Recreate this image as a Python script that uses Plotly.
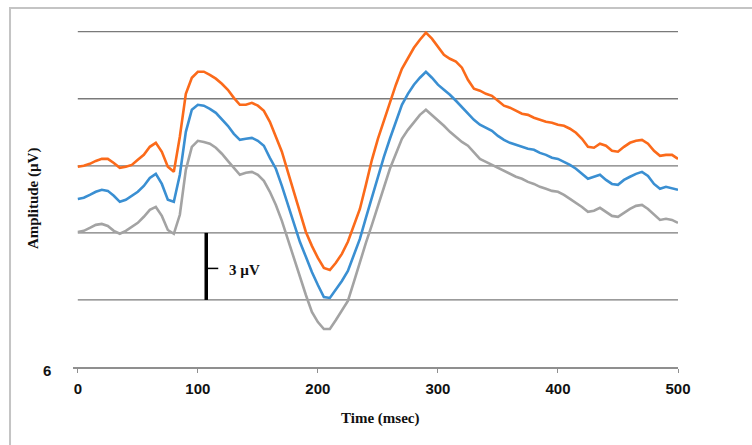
import plotly.graph_objects as go

# Averaged waveforms, sampled every 5 ms (µV, negative plotted upward)
time_ms = list(range(0, 501, 5))

orange_uv = [
    -2.96, -3.00, -3.09, -3.22, -3.31, -3.31, -3.13, -2.91, -2.96, -3.04,
    -3.27, -3.49, -3.85, -4.03, -3.63, -2.96, -2.73, -4.30, -6.22, -6.94,
    -7.21, -7.21, -7.07, -6.90, -6.67, -6.40, -6.04, -5.73, -5.73, -5.82,
    -5.69, -5.46, -4.97, -4.30, -3.63, -2.73, -1.84, -0.85, -0.04, 0.58,
    1.12, 1.57, 1.66, 1.34, 0.94, 0.40, -0.31, -1.07, -2.15, -3.27,
    -4.21, -5.01, -5.87, -6.63, -7.34, -7.84, -8.28, -8.64, -8.96, -8.69,
    -8.33, -7.97, -7.79, -7.66, -7.39, -6.85, -6.45, -6.36, -6.22, -6.13,
    -5.91, -5.69, -5.60, -5.46, -5.33, -5.28, -5.15, -5.06, -4.97, -4.93,
    -4.84, -4.79, -4.66, -4.48, -4.21, -3.85, -3.81, -3.99, -3.90, -3.67,
    -3.63, -3.85, -4.03, -4.12, -4.16, -3.99, -3.67, -3.45, -3.49, -3.49,
    -3.31,
]

blue_uv = [
    -1.52, -1.57, -1.70, -1.84, -1.93, -1.88, -1.66, -1.39, -1.48, -1.66,
    -1.84, -2.10, -2.46, -2.64, -2.19, -1.48, -1.39, -2.60, -4.52, -5.51,
    -5.73, -5.69, -5.55, -5.37, -5.10, -4.79, -4.43, -4.16, -4.21, -4.25,
    -4.12, -3.90, -3.36, -2.87, -2.10, -1.30, -0.49, 0.40, 1.07, 1.75,
    2.33, 2.87, 2.91, 2.55, 2.15, 1.70, 0.99, 0.27, -0.67, -1.61,
    -2.55, -3.40, -4.21, -5.01, -5.73, -6.22, -6.63, -6.94, -7.21, -6.94,
    -6.63, -6.40, -6.18, -5.91, -5.64, -5.33, -5.06, -4.84, -4.70, -4.57,
    -4.34, -4.16, -4.03, -3.94, -3.85, -3.76, -3.72, -3.58, -3.49, -3.36,
    -3.31, -3.18, -3.04, -2.87, -2.64, -2.42, -2.51, -2.60, -2.37, -2.19,
    -2.15, -2.37, -2.51, -2.64, -2.73, -2.55, -2.19, -1.97, -2.06, -2.01,
    -1.93,
]

gray_uv = [
    -0.04, -0.09, -0.22, -0.36, -0.40, -0.31, -0.09, 0.04, -0.09, -0.27,
    -0.45, -0.72, -1.03, -1.16, -0.76, -0.13, 0.04, -0.81, -2.82, -3.85,
    -4.12, -4.07, -3.99, -3.81, -3.54, -3.22, -2.91, -2.60, -2.69, -2.73,
    -2.60, -2.33, -1.84, -1.25, -0.54, 0.31, 1.16, 2.01, 2.78, 3.54,
    3.99, 4.30, 4.30, 3.90, 3.49, 3.04, 2.19, 1.30, 0.45, -0.36,
    -1.21, -2.06, -2.87, -3.54, -4.21, -4.61, -4.97, -5.28, -5.51, -5.28,
    -5.06, -4.79, -4.52, -4.30, -4.07, -3.90, -3.58, -3.31, -3.18, -3.04,
    -2.91, -2.78, -2.64, -2.51, -2.42, -2.28, -2.19, -2.06, -1.97, -1.88,
    -1.84, -1.70, -1.52, -1.34, -1.16, -0.94, -0.99, -1.12, -0.94, -0.76,
    -0.72, -0.90, -1.07, -1.21, -1.25, -1.07, -0.81, -0.58, -0.63, -0.58,
    -0.45,
]

x_tick_vals = [0, 100, 200, 300, 400, 500]
grid_levels_uv = [-9, -6, -3, 0, 3]
y_bottom_label = 6

# Calibration bar
scale_time_ms = 107
scale_from_uv = 0
scale_size_uv = 3

serif = "Liberation Serif, Times New Roman, serif"
sans = "Liberation Sans, Arial, sans-serif"

fig = go.Figure()

series = [
    ("gray", gray_uv, "#a3a3a3"),
    ("blue", blue_uv, "#3a8fd2"),
    ("orange", orange_uv, "#fb6a1a"),
]
for name, vals, color in series:
    fig.add_trace(go.Scatter(
        x=time_ms, y=vals, mode="lines", name=name,
        line=dict(color=color, width=2.6), showlegend=False,
    ))

# Calibration bar with centre tick
fig.add_trace(go.Scatter(
    x=[scale_time_ms, scale_time_ms],
    y=[scale_from_uv, scale_from_uv + scale_size_uv],
    mode="lines", line=dict(color="#000000", width=3.5), showlegend=False,
))
fig.add_trace(go.Scatter(
    x=[scale_time_ms, scale_time_ms + 10],
    y=[scale_from_uv + scale_size_uv * 0.53] * 2,
    mode="lines", line=dict(color="#000000", width=1.5), showlegend=False,
))

shapes = []
for g in grid_levels_uv:
    shapes.append(dict(
        type="line", xref="x", yref="y", x0=0, x1=500, y0=g, y1=g,
        line=dict(color="#7a7a7a", width=1.3), layer="below",
    ))
# outer frame
shapes.append(dict(
    type="rect", xref="paper", yref="paper",
    x0=-0.1041, x1=1.14, y0=-0.25, y1=1.0497,
    line=dict(color="#c4c4c4", width=2), layer="below",
))

annotations = [
    dict(x=scale_time_ms + 17, y=scale_from_uv + scale_size_uv * 0.56,
         xref="x", yref="y", text=f"<b>{scale_size_uv} µV</b>", showarrow=False,
         xanchor="left", yanchor="middle",
         font=dict(family=serif, size=15, color="#111111")),
    dict(x=-0.066, y=0.494, xref="paper", yref="paper",
         xanchor="center", yanchor="middle",
         text="<b>Amplitude (µV)</b>", textangle=-90, showarrow=False,
         font=dict(family=serif, size=15, color="#111111")),
    dict(x=0.507, y=-0.152, xref="paper", yref="paper",
         xanchor="center", yanchor="middle",
         text="<b>Time (msec)</b>", showarrow=False,
         font=dict(family=serif, size=15, color="#111111")),
    dict(x=-0.043, y=-0.009, xref="paper", yref="paper",
         xanchor="center", yanchor="middle",
         text=f"<b>{y_bottom_label}</b>", showarrow=False,
         font=dict(family=sans, size=15, color="#111111")),
]

fig.update_layout(
    width=752, height=445,
    margin=dict(l=73, r=74, t=25, b=78),
    paper_bgcolor="white", plot_bgcolor="white",
    shapes=shapes, annotations=annotations,
    xaxis=dict(
        range=[-4, 500], tickvals=x_tick_vals,
        ticktext=[f"<b>{v}</b>" for v in x_tick_vals],
        showgrid=False, zeroline=False,
        showline=True, linecolor="#8f8f8f", linewidth=1.5,
        ticks="outside", ticklen=4, tickcolor="#8f8f8f", tickwidth=1.2,
        ticklabelstandoff=3,
        tickfont=dict(family=sans, size=15, color="#111111"),
    ),
    yaxis=dict(
        range=[y_bottom_label, -9.3], showgrid=False, zeroline=False,
        showticklabels=False, showline=False, ticks="",
    ),
)

fig.write_html("out.html")
